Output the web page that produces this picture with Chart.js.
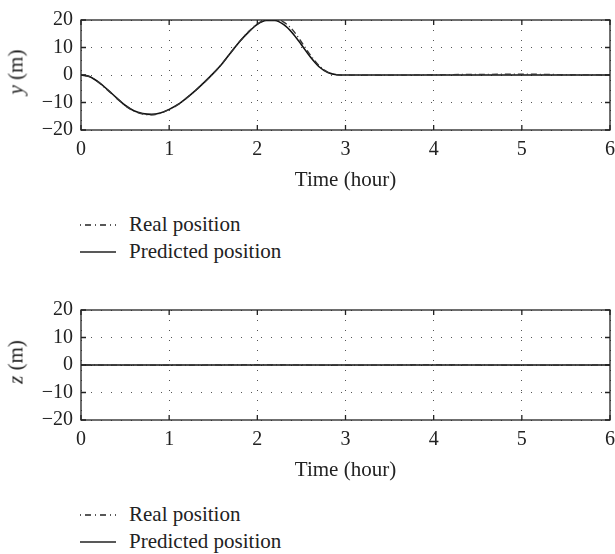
<!DOCTYPE html>
<html>
<head>
<meta charset="utf-8">
<script src="https://cdn.jsdelivr.net/npm/chart.js@4/dist/chart.umd.min.js"></script>
<style>
  body { margin: 0; background: #fff; font-family: 'Liberation Serif', 'Times New Roman', serif; color: #222; }
  .page { position: relative; width: 615px; height: 554px; }
  .box { position: absolute; left: 0; width: 615px; height: 195px; }
  .ylab { position: absolute; left: 16px; font-size: 21px; transform: translate(-50%, -50%) rotate(-90deg); white-space: nowrap; }
  .legend { position: absolute; left: 80px; font-size: 21px; line-height: 27px; }
  .legend div { height: 27px; display: flex; align-items: center; }
  .legend svg { margin-right: 13px; }
</style>
</head>
<body>
<div class="page">
  <div class="box" style="top:0"><canvas id="chartY"></canvas></div>
  <div class="ylab" style="top:72px"><i>y</i> (m)</div>
  <div class="legend" style="top:211px">
    <div><svg width="36" height="4"><line x1="0" y1="2" x2="36" y2="2" stroke="#222" stroke-width="1.3" stroke-dasharray="1,4,6,4"/></svg>Real position</div>
    <div><svg width="36" height="4"><line x1="0" y1="2" x2="36" y2="2" stroke="#222" stroke-width="1.5"/></svg>Predicted position</div>
  </div>

  <div class="box" style="top:290px"><canvas id="chartZ"></canvas></div>
  <div class="ylab" style="top:362px"><i>z</i> (m)</div>
  <div class="legend" style="top:501px">
    <div><svg width="36" height="4"><line x1="0" y1="2" x2="36" y2="2" stroke="#222" stroke-width="1.3" stroke-dasharray="1,4,6,4"/></svg>Real position</div>
    <div><svg width="36" height="4"><line x1="0" y1="2" x2="36" y2="2" stroke="#222" stroke-width="1.5"/></svg>Predicted position</div>
  </div>
</div>

<script>
// Time samples (hours)
const timeY = [0, 0.1, 0.2, 0.3, 0.4, 0.5, 0.6, 0.7, 0.8, 0.9, 1.0, 1.1, 1.2, 1.3, 1.4, 1.5,
               1.6, 1.7, 1.8, 1.9, 2.0, 2.1, 2.2, 2.3, 2.4, 2.5, 2.6, 2.7, 2.8, 2.9, 3.0,
               3.5, 4.0, 4.5, 5.0, 5.5, 6.0];
// y position (m)
const yPredicted = [0, -0.6, -2.6, -5.3, -8.2, -11.0, -13.0, -14.0, -14.3, -13.8, -12.5, -10.7, -8.3, -5.6, -2.6, 0.6,
                    4.1, 8.2, 12.2, 15.6, 18.4, 19.8, 19.8, 18.3, 15.2, 11.0, 6.6, 3.0, 0.9, 0.1, 0,
                    0, 0, 0, 0, 0, 0];
const yReal = [0, -0.6, -2.7, -5.4, -8.3, -11.1, -13.1, -14.2, -14.5, -13.9, -12.6, -10.8, -8.3, -5.6, -2.6, 0.6,
               4.1, 8.2, 12.2, 15.7, 18.6, 20.0, 20.2, 19.2, 16.4, 12.0, 7.3, 3.4, 1.0, 0.1, 0,
               -0.1, 0.1, 0.2, 0.3, 0.1, 0];

const timeZ = [0, 1, 2, 3, 4, 5, 6];
const zPredicted = [0, 0, 0, 0, 0, 0, 0];
const zReal = [0, -0.1, 0.1, -0.1, 0.1, -0.1, 0];

const xTicks = [0, 1, 2, 3, 4, 5, 6];
const yTicks = [-20, -10, 0, 10, 20];

Chart.defaults.font.family = "'Liberation Serif', 'Times New Roman', serif";
Chart.defaults.font.size = 20;
Chart.defaults.color = '#222';

// box around the plot area plus inward tick marks
const frame = {
  id: 'frame',
  afterDraw(chart) {
    const { ctx, chartArea: a, scales } = chart;
    ctx.save();
    ctx.strokeStyle = '#222';
    ctx.lineWidth = 1.3;
    ctx.strokeRect(a.left, a.top, a.right - a.left, a.bottom - a.top);
    ctx.beginPath();
    xTicks.forEach(v => {
      const px = scales.x.getPixelForValue(v);
      ctx.moveTo(px, a.bottom); ctx.lineTo(px, a.bottom - 5);
      ctx.moveTo(px, a.top); ctx.lineTo(px, a.top + 5);
    });
    yTicks.forEach(v => {
      const py = scales.y.getPixelForValue(v);
      ctx.moveTo(a.left, py); ctx.lineTo(a.left + 5, py);
      ctx.moveTo(a.right, py); ctx.lineTo(a.right - 5, py);
    });
    ctx.stroke();
    ctx.restore();
  }
};

function toPoints(xs, ys) {
  return xs.map((x, i) => ({ x: x, y: ys[i] }));
}

function makeChart(id, xs, real, predicted) {
  const ctx = document.getElementById(id).getContext('2d');
  return new Chart(ctx, {
    type: 'line',
    data: {
      datasets: [
        {
          label: 'Real position',
          data: toPoints(xs, real),
          borderColor: '#333',
          borderWidth: 1.4,
          borderDash: [1, 3, 6, 3],
          pointRadius: 0,
          cubicInterpolationMode: 'monotone',
          fill: false
        },
        {
          label: 'Predicted position',
          data: toPoints(xs, predicted),
          borderColor: '#111',
          borderWidth: 1.6,
          pointRadius: 0,
          cubicInterpolationMode: 'monotone',
          fill: false
        }
      ]
    },
    options: {
      responsive: true,
      maintainAspectRatio: false,
      animation: false,
      layout: { padding: { top: 14, right: 5, left: 0, bottom: 0 } },
      plugins: {
        legend: { display: false },
        tooltip: { enabled: false }
      },
      scales: {
        x: {
          type: 'linear',
          min: 0,
          max: 6,
          afterFit: s => { s.height = 65; s.paddingRight = 0; s.paddingLeft = 0; },
          afterBuildTicks: s => { s.ticks = xTicks.map(v => ({ value: v })); },
          ticks: { padding: 8, maxRotation: 0 },
          grid: { color: '#555', lineWidth: 1, drawTicks: false },
          border: { display: false, dash: [1, 9] },
          title: { display: true, text: 'Time (hour)', font: { size: 21 }, padding: { top: 0, bottom: 2 } }
        },
        y: {
          min: -20,
          max: 20,
          afterFit: s => { s.width = 81; },
          afterBuildTicks: s => { s.ticks = yTicks.map(v => ({ value: v })); },
          ticks: {
            padding: 8,
            callback: v => String(v).replace('-', '\u2212')
          },
          grid: { color: '#555', lineWidth: 1, drawTicks: false },
          border: { display: false, dash: [1, 9] }
        }
      }
    },
    plugins: [frame]
  });
}

makeChart('chartY', timeY, yReal, yPredicted);
makeChart('chartZ', timeZ, zReal, zPredicted);
</script>
</body>
</html>
